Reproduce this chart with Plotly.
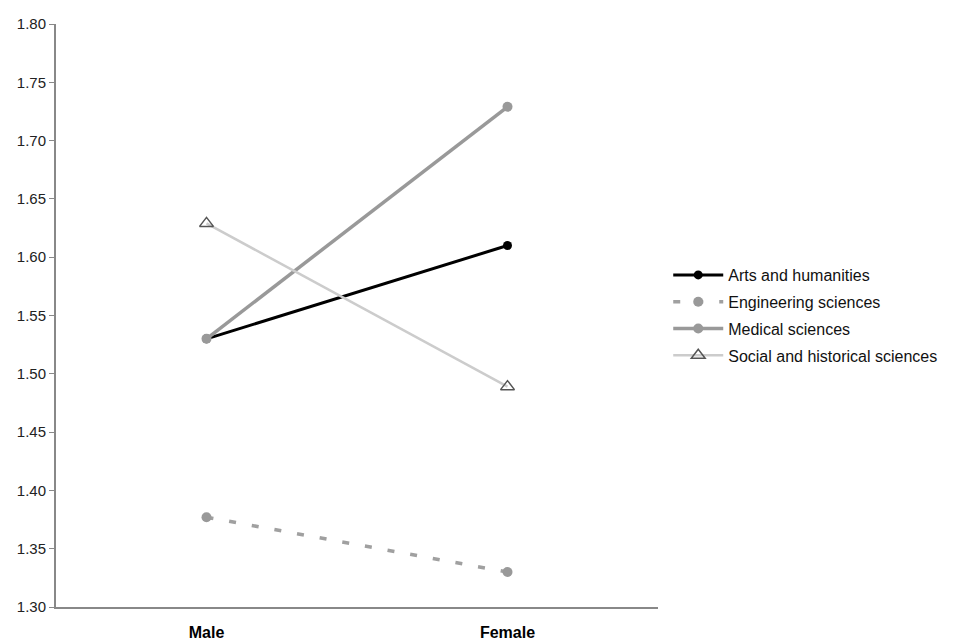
import plotly.graph_objects as go

categories = ["Male", "Female"]
arts = [1.53, 1.61]
engineering = [1.377, 1.33]
medical = [1.53, 1.729]
social = [1.629, 1.489]

fig = go.Figure()
fig.add_trace(go.Scatter(x=categories, y=arts, name="Arts and humanities", mode="lines+markers", legendgroup="a",
                         line=dict(color="#000000", width=3), marker=dict(symbol="circle", size=9, color="#000000")))
fig.add_trace(go.Scatter(x=categories, y=engineering, name="Engineering sciences", mode="lines+markers", legendgroup="b",
                         line=dict(color="#a0a0a0", width=3.5, dash="7px,16px"), marker=dict(symbol="circle", size=10, color="#999999")))
fig.add_trace(go.Scatter(x=categories, y=medical, name="Medical sciences", mode="lines+markers", legendgroup="c",
                         line=dict(color="#999999", width=3.5), marker=dict(symbol="circle", size=10, color="#999999")))
fig.add_trace(go.Scatter(x=categories, y=social, name="Social and historical sciences", mode="lines+markers", legendgroup="d",
                         line=dict(color="#cccccc", width=2.5),
                         marker=dict(symbol="triangle-up-open", size=12, color="#555555", line=dict(width=1.5))))

fig.update_layout(
    width=952, height=632,
    margin=dict(l=48, r=302, t=16, b=33),
    paper_bgcolor="white", plot_bgcolor="white",
    font=dict(family="Liberation Sans, Arial, sans-serif", color="#222222"),
    legend=dict(x=1.017, y=0.5, xanchor="left", yanchor="middle", font=dict(size=16, color="#111111"),
                tracegroupgap=3, itemwidth=50, borderwidth=0),
    xaxis=dict(type="category", range=[-0.5, 1.5], showline=True, linecolor="#888888", linewidth=2,
               ticks="", showgrid=False, zeroline=False, automargin=False, ticklabelstandoff=10,
               tickfont=dict(size=16, color="#000000", family="Liberation Sans, Arial, sans-serif"),
               tickvals=categories, ticktext=["<b>Male</b>", "<b>Female</b>"]),
    yaxis=dict(range=[1.30, 1.80], dtick=0.05, tick0=1.30, tickformat=".2f", showline=True,
               linecolor="#888888", linewidth=2, ticks="outside", ticklen=5, tickcolor="#888888",
               showgrid=False, zeroline=False, automargin=False, tickfont=dict(size=15, color="#222222")),
)

fig.write_html("out.html")
